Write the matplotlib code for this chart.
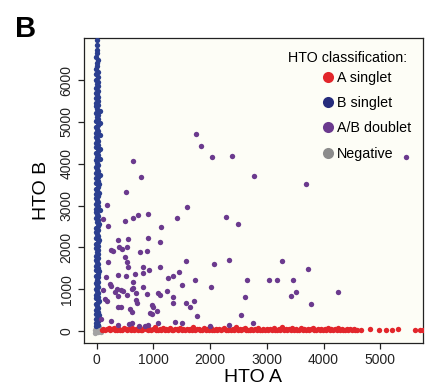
#!/usr/bin/env python3
"""HTO A vs HTO B scatter, coloured by HTO classification (panel B)."""

import matplotlib

matplotlib.use("Agg")
import matplotlib.pyplot as plt
from matplotlib.lines import Line2D

plt.rcParams["font.family"] = ["Liberation Sans", "DejaVu Sans"]

# ---- data ------------------------------------------------------------------
neg_x = [-25, 15, 45, -5, 60, -35, 25, 70, -15, 40]
neg_y = [20, -15, 50, 85, 10, -45, 110, -30, 60, 95]

blue_y = [110, 150, 205, 240, 290, 335, 380, 410, 465, 500, 560, 590, 640, 690,
          720, 780, 815, 870, 905, 950, 1010, 1045, 1090, 1150, 1185, 1230, 1290,
          1320, 1370, 1430, 1465, 1510, 1560, 1610, 1650, 1700, 1745, 1800, 1840,
          1890, 1935, 1990, 2030, 2080, 2125, 2180, 2220, 2270, 2330, 2365, 2410,
          2470, 2505, 2560, 2600, 2650, 2710, 2745, 2790, 2850, 2885, 2930, 2990,
          3030, 3075, 3130, 3170, 3220, 3270, 3310, 3365, 3400, 3450, 3510, 3545,
          3590, 3650, 3690, 3735, 3790, 3830, 3880, 3930, 3975, 4020, 4080, 4115,
          4160, 4220, 4260, 4305, 4360, 4400, 4450, 4500, 4545, 4590, 4650, 4690,
          4740, 4790, 4830, 4880, 4935, 4975, 5020, 5080, 5120, 5165, 5220, 5265,
          5310, 5370, 5410, 5455, 5510, 5560, 5600, 5660, 5700, 5745, 5810, 5850,
          5900, 5960, 6010, 6070, 6140, 6190, 6260, 6330, 6400, 6470, 6560, 6640,
          6730, 6830, 6960]
blue_x = [-10, 20, -5, 25, -15, 15, 35, -10, 15, -15, 30, 5, -10, 20, 40, -5,
          15, -15, 25, 5, -10, 30, 10, -15, 20, 0, 30, -10, 15, 45, -5, 15, -15,
          25, 5, -10, 30, -15, 20, 0, 20, -10, 30, -5, 15, 35, -15, 20, 5, -10,
          25, -15, 20, 40, 0, 15, -10, 30, 5, -15, 50, -5, 20, -10, 25, 5, -10,
          20, -15, 35, 0, -10, 20, 45, -5, 25, -15, 15, 55, -10, 20, 0, -10, 30,
          5, -15, 50, 0, 20, -10, 25, 55, -10, 15, -15, 30, 5, -5, 50, -10, 20,
          0, -15, 25, 55, -10, 20, 0, 30, -10, 50, 5, -15, 20, -5, 25, -10, 20,
          0, -10, 20, -15, 15, 0, 20, -10, 15, -5, 15, -10, 10, 0, 15, -5, 5,
          0, 10, 0]

red_x = [85, 115, 150, 175, 210, 240, 265, 300, 330, 355,
         390, 420, 445, 480, 510, 540, 570, 600, 630, 655,
         690, 720, 750, 780, 805, 840, 870, 900, 925, 960,
         990, 1020, 1050, 1075, 1110, 1140, 1170, 1200, 1225, 1260,
         1290, 1320, 1345, 1380, 1410, 1440, 1470, 1500, 1530, 1560,
         1590, 1620, 1650, 1680, 1705, 1740, 1770, 1800, 1830, 1855,
         1890, 1920, 1950, 1975, 2010, 2040, 2070, 2100, 2130, 2160,
         2190, 2220, 2245, 2280, 2310, 2340, 2370, 2400, 2430, 2460,
         2490, 2520, 2545, 2580, 2610, 2640, 2670, 2700, 2730, 2760,
         2790, 2820, 2845, 2880, 2910, 2940, 2970, 3000, 3030, 3060,
         3090, 3120, 3145, 3180, 3210, 3240, 3270, 3300, 3330, 3360,
         3390, 3420, 3445, 3480, 3510, 3540, 3570, 3600, 3630, 3660,
         3690, 3720, 3745, 3780, 3810, 3840, 3870, 3900, 3930, 3960,
         3990, 4020, 4045, 4080, 4110, 4140, 4170, 4200, 4230, 4260,
         4290, 4320, 4350, 4380, 4410, 4440, 4470, 4500, 4530, 4560,
         4590, 4670, 4820, 4970, 5100, 5200, 5320, 5610, 5700, 5760]
red_y = [25, 50, 15, 40, 65, 20, 45, 80, 30, 15,
         55, 35, 20, 70, 40, 25, 50, 15, 85, 30,
         45, 20, 60, 35, 15, 75, 40, 25, 55, 20,
         45, 90, 30, 15, 50, 35, 65, 20, 40, 25,
         70, 30, 15, 55, 40, 20, 85, 35, 50, 15,
         45, 25, 60, 30, 100, 20, 40, 55, 15, 35,
         65, 25, 45, 20, 80, 35, 15, 50, 30, 60,
         20, 40, 75, 25, 15, 55, 35, 45, 20, 90,
         30, 50, 15, 40, 65, 25, 35, 20, 55, 30,
         45, 15, 80, 35, 25, 60, 20, 40, 30, 50,
         20, 70, 35, 15, 45, 25, 95, 30, 55, 20,
         40, 30, 65, 15, 50, 25, 35, 85, 20, 45,
         30, 55, 20, 40, 70, 25, 15, 50, 35, 60,
         20, 45, 30, 80, 25, 40, 15, 55, 30, 65,
         20, 45, 35, 25, 60, 30, 40, 20, 50, 30,
         35, 25, 40, 30, 35, 25, 40, 30, 35, 30]

dbl_x = [1757, 1840, 2028, 2381, 646, 787, 2780, 517, 182, 1593, 117, 499, 646,
         723, 911, 1411, 2281, 2493, 205, 1129, 1117, 899, 558, 381, 393, 452, 540,
         247, 285, 764, 893, 494, 194, 540, 547, 1570, 2075, 2328, 822, 928, 1117,
         159, 381, 523, 676, 822, 1263, 1340, 1446, 1740, 2646, 3039, 240, 258,
         353, 423, 470, 328, 646, 617, 646, 822, 693, 1245, 1499, 2011, 117, 146,
         176, 376, 540, 693, 706, 882, 1076, 1117, 1341, 1352, 1576, 1646, 1723,
         2616, 381, 423, 970, 988, 587, 623, 940, 1058, 975, 1764, 2545, 247, 617,
         1087, 1381, 1499, 2752, 381, 575, 746, 852, 911, 1999, 2328, 5450, 3686,
         3274, 3733, 3175, 3457, 3422, 3521, 4262, 3775, 70]
dbl_y = [4705, 4425, 4170, 4186, 4074, 3691, 3715, 3318, 3014, 2974, 2679, 2638,
         2710, 2767, 2791, 2695, 2720, 2552, 2512, 2480, 2137, 2217, 2193, 2169,
         2017, 1961, 2017, 1938, 1920, 1883, 1921, 1777, 1658, 1643, 1538, 1682,
         1610, 1706, 1524, 1452, 1538, 1299, 1340, 1323, 1363, 1395, 1261, 1316,
         1404, 1220, 1220, 1213, 1124, 1070, 1005, 981, 957, 941, 1165, 1012, 1030,
         1045, 916, 964, 1100, 1060, 981, 758, 725, 845, 861, 741, 662, 877, 901,
         861, 806, 662, 662, 566, 725, 821, 582, 566, 622, 566, 519, 462, 423, 486,
         410, 359, 383, 246, 199, 199, 223, 183, 183, 144, 160, 120, 120, 144, 120,
         144, 4155, 3516, 1674, 1476, 1220, 1220, 830, 925, 933, 653, 280]

classes = ["A singlet", "B singlet", "A/B doublet", "Negative"]
colors = ["#e2262b", "#2b3f8f", "#6b3a8e", "#a3a3a3"]
legend_colors = ["#e2262b", "#262c7c", "#6b3a8e", "#8c8c8c"]

# ---- figure ---------------------------------------------------------------
fig = plt.figure(figsize=(4.26, 3.9), dpi=100)
ax = fig.add_axes([0.197, 0.121, 0.796, 0.781])
ax.set_facecolor("#fdfdf6")

ms = 15
ax.scatter(neg_x, neg_y, s=ms, color=colors[3], linewidths=0, zorder=2)
ax.scatter(blue_x, blue_y, s=ms, color=colors[1], linewidths=0, zorder=3)
ax.scatter(red_x, red_y, s=ms, color=colors[0], linewidths=0, zorder=3)
ax.scatter(dbl_x, dbl_y, s=ms, color=colors[2], linewidths=0, zorder=4)

ax.set_xlim(-225, 5755)
ax.set_ylim(-280, 7000)
ax.set_xticks([0, 1000, 2000, 3000, 4000, 5000])
ax.set_yticks([0, 1000, 2000, 3000, 4000, 5000, 6000])
ax.tick_params(direction="out", length=4.5, width=0.9, labelsize=10, pad=3,
               colors="#222222")
ax.tick_params(axis="y", labelrotation=90)
for lbl in ax.get_yticklabels():
    lbl.set_va("center")
for sp in ax.spines.values():
    sp.set_linewidth(0.9)
    sp.set_color("#222222")

ax.set_xlabel("HTO A", fontsize=14, labelpad=1)
ax.set_ylabel("HTO B", fontsize=14, labelpad=7)

# legend: title as plain text, entries as a frameless legend below it
ax.text(0.953, 0.935, "HTO classification:", transform=ax.transAxes,
        ha="right", va="center", fontsize=10.3)
handles = [Line2D([], [], ls="", marker="o", markersize=8, markeredgewidth=0,
                  color=c) for c in legend_colors]
ax.legend(handles, classes, loc="upper left", bbox_to_anchor=(0.706, 0.892),
          frameon=False, fontsize=10.3, handletextpad=0.25, handlelength=0.7,
          labelspacing=0.78, borderaxespad=0, borderpad=0)

fig.text(0.036, 0.962, "B", fontsize=21, fontweight="bold", va="top", ha="left")

fig.savefig("out.png", dpi=100)
